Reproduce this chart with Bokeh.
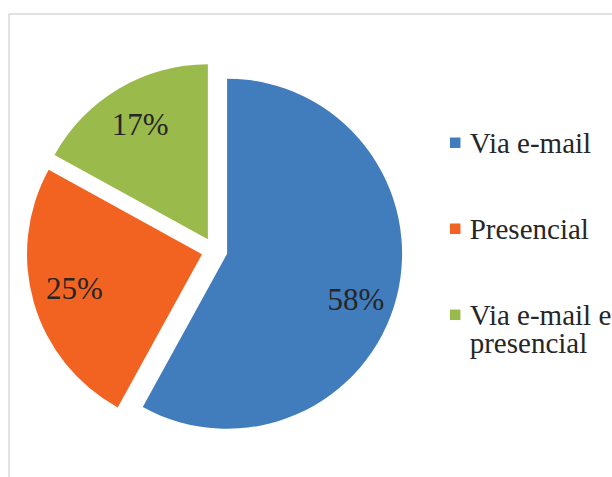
import numpy as np
from bokeh.plotting import figure
from bokeh.models import Range1d
from bokeh.core.properties import value
from bokeh.embed import file_html
from bokeh.resources import INLINE

# ---- data ----
categories = ["Via e-mail", "Presencial", "Via e-mail e presencial"]
legend_lines = [["Via e-mail"], ["Presencial"], ["Via e-mail e", "presencial"]]
shares = [58, 25, 17]
labels = ["58%", "25%", "17%"]
colors = ["#417CBD", "#F26322", "#9BBA4C"]

# ---- layout (pixel-like data space) ----
W, H = 612, 477
cx, cy = 214.0, H - 250.0
R = 175.0
EXPLODE = 13.0
LABEL_POS = 0.76
LABEL_NUDGE_Y = [-13.0, 3.0, 0.0]   # small label placement tweaks (pixels)
FONT = "Liberation Serif"
TEXT_COLOR = "#262626"

frac = np.array(shares, dtype=float) / sum(shares)
ends = np.cumsum(frac)
starts = ends - frac
start_ang = np.pi / 2 - 2 * np.pi * starts
end_ang = np.pi / 2 - 2 * np.pi * ends
mid = (start_ang + end_ang) / 2
sx = cx + EXPLODE * np.cos(mid)
sy = cy + EXPLODE * np.sin(mid)
lx = sx + LABEL_POS * R * np.cos(mid)
ly = sy + LABEL_POS * R * np.sin(mid) + np.array(LABEL_NUDGE_Y)

p = figure(width=W, height=H, x_range=Range1d(0, W), y_range=Range1d(0, H),
           output_backend="svg", toolbar_location=None,
           x_axis_location=None, y_axis_location=None, min_border=0)
p.grid.visible = False
p.outline_line_color = None
p.background_fill_color = "white"
p.border_fill_color = "white"

# chart-area frame (only top and left edges visible in window)
p.line(x=[8.5, 8.5, W + 50], y=[-50, H - 13.5, H - 13.5], line_color="#D9D9D9", line_width=1.5)

p.wedge(x=sx, y=sy, radius=R, start_angle=start_ang, end_angle=end_ang,
        direction="clock", fill_color=colors, line_color=None)

p.text(x=lx, y=ly, text=labels, text_font=value(FONT), text_font_size="31px",
       text_color=TEXT_COLOR, text_align="center", text_baseline="middle")

# legend
leg_x = 454.7
leg_y0 = 142.3
leg_step = 86.0
my = [H - (leg_y0 + i * leg_step) for i in range(len(categories))]
p.scatter(x=[leg_x] * len(categories), y=my, marker="square", size=10.5,
          fill_color=colors, line_color=None)
tx, ty, tt = [], [], []
for i, lines in enumerate(legend_lines):
    for j, s in enumerate(lines):
        tx.append(leg_x + 14.5)
        ty.append(my[i] - j * 28)
        tt.append(s)
p.text(x=tx, y=ty, text=tt, text_font=value(FONT), text_font_size="29px",
       text_color=TEXT_COLOR, text_align="left", text_baseline="middle")

open("out.html", "w").write(file_html(p, INLINE))
